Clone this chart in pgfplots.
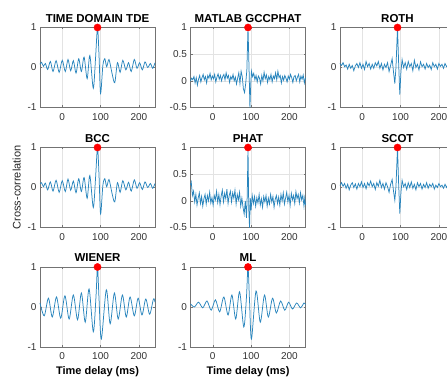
\documentclass[border=0pt]{standalone}
\usepackage{fontspec}
\setmainfont{Liberation Sans}
\usepackage{pgfplots}
\pgfplotsset{compat=1.18}
\definecolor{mblue}{rgb}{0.16,0.52,0.74}
\pgfplotsset{
  cc/.style={
    scale only axis, width=115pt, height=80pt, anchor=south west,
    xmin=-58, xmax=242, xtick={0,100,200},
    ymin=-1, ymax=1, ytick={-1,0,1},
    clip=false,
    grid=major, major grid style={black!11, line width=0.4pt},
    axis line style={black!55, line width=0.6pt},
    major tick length=2pt, tick style={black!55},
    tick label style={font=\fontsize{10}{11}\selectfont, text=black!80},
    xticklabel style={yshift=-2pt},
    /pgf/number format/assume math mode=true,
    title style={font=\fontsize{11.5}{12}\selectfont\bfseries, yshift=-4.5pt},
    xlabel style={font=\fontsize{11}{12}\selectfont\bfseries},
    ylabel style={font=\fontsize{11}{12}\selectfont, text=black!85},
  },
  half/.style={ymin=-0.5, ymax=1, ytick={-0.5,0,0.5,1}},
  sig/.style={mblue, line width=0.75pt, no marks},
  pk/.style={only marks, mark=*, mark size=3.6pt, red, mark options={fill=red, draw=red}},
}
\begin{document}
\begin{tikzpicture}
% Row 1
\begin{axis}[cc, at={(40pt,271.5pt)}, title={TIME DOMAIN TDE}]
\addplot[sig, smooth] coordinates {(-58,0.08) (-54,0.13) (-49,0.03) (-44,0.10) (-38,-0.05) (-31,0.15) (-24,-0.10) (-16,0.17) (-8,-0.12) (0,0.18) (8,-0.10) (15,0.20) (22,-0.08) (29,0.17) (36,-0.14) (43,0.22) (50,-0.10) (57,0.26) (65,-0.28) (72,0.30) (81,-0.52) (87,0.25) (92,1.00) (96,0.30) (100,-0.65) (106,0.05) (111,0.22) (116,0.02) (122,0.20) (130,-0.15) (137,-0.38) (144,0.12) (151,-0.12) (158,0.18) (166,-0.06) (173,0.12) (180,-0.10) (188,0.20) (195,-0.02) (202,0.12) (209,-0.06) (216,0.14) (223,0.00) (230,0.10) (236,-0.02) (242,0.12)};
\addplot[pk] coordinates {(92,1)};
\end{axis}
\begin{axis}[cc, half, at={(190.5pt,271.5pt)}, title={MATLAB GCCPHAT}]
\addplot[sig] coordinates {(-58,0.00) (-55,0.05) (-52,0.02) (-49,0.08) (-46,-0.04) (-43,0.06) (-40,-0.08) (-37,0.03) (-34,0.10) (-31,-0.02) (-28,0.06) (-25,0.12) (-22,0.02) (-19,0.08) (-16,-0.04) (-13,0.10) (-10,0.05) (-7,0.14) (-4,0.02) (-1,0.09) (2,0.04) (5,0.12) (8,-0.02) (11,0.07) (14,0.13) (17,0.03) (20,0.10) (23,0.00) (26,0.08) (29,0.12) (32,0.02) (35,0.15) (38,0.05) (41,0.10) (44,-0.03) (47,0.08) (50,0.03) (53,0.12) (56,0.00) (59,0.07) (62,-0.06) (65,0.05) (68,0.15) (71,-0.05) (74,0.18) (77,0.08) (80,-0.15) (83,-0.22) (86,-0.05) (89,0.20) (92,1.00) (95,0.15) (97,-0.50) (99,-0.10) (101,0.18) (104,0.08) (107,0.14) (110,0.02) (113,0.10) (116,-0.02) (119,0.09) (122,0.05) (125,-0.06) (128,0.10) (131,0.00) (134,0.16) (137,0.04) (140,0.11) (143,-0.03) (146,0.08) (149,0.02) (152,0.12) (155,-0.02) (158,0.09) (161,0.04) (164,0.15) (167,0.02) (170,0.18) (173,0.06) (176,0.10) (179,-0.04) (182,0.08) (185,0.01) (188,0.10) (191,0.05) (194,-0.02) (197,0.09) (200,0.03) (203,0.12) (206,0.06) (209,-0.03) (212,0.08) (215,0.10) (218,0.00) (221,0.07) (224,0.12) (227,-0.02) (230,0.09) (233,0.03) (236,0.11) (239,-0.04) (242,0.06)};
\addplot[pk] coordinates {(92,1)};
\end{axis}
\begin{axis}[cc, at={(340pt,271.5pt)}, title={ROTH}]
\addplot[sig] coordinates {(-58,0.10) (-54,0.05) (-50,0.12) (-46,0.02) (-42,0.06) (-38,-0.04) (-34,0.08) (-30,-0.02) (-26,0.05) (-22,-0.08) (-18,0.04) (-14,0.10) (-10,0.00) (-6,0.12) (-2,-0.02) (2,0.08) (6,-0.05) (10,0.15) (14,0.02) (18,0.10) (22,-0.04) (26,0.08) (30,-0.02) (34,0.12) (38,0.04) (42,0.15) (46,-0.02) (50,0.10) (54,-0.06) (58,0.08) (62,0.00) (66,0.12) (70,-0.10) (74,0.05) (78,0.22) (82,-0.15) (85,-0.40) (88,0.00) (92,1.00) (95,0.10) (98,-0.68) (101,-0.10) (104,0.20) (108,0.00) (112,0.12) (116,-0.04) (120,0.15) (124,0.02) (128,0.10) (132,-0.08) (136,0.18) (140,0.00) (144,0.08) (148,-0.06) (152,0.14) (156,0.02) (160,0.08) (164,-0.04) (168,0.10) (172,0.00) (176,0.06) (180,-0.05) (184,0.12) (188,0.02) (192,0.08) (196,-0.04) (200,0.10) (204,0.03) (208,0.08) (212,-0.02) (216,0.10) (220,0.02) (224,0.07) (228,-0.03) (232,0.08) (236,0.02) (240,0.07) (242,0.04)};
\addplot[pk] coordinates {(92,1)};
\end{axis}
% Row 2
\begin{axis}[cc, at={(40pt,151.5pt)}, title={BCC}, ylabel={Cross-correlation}]
\addplot[sig, smooth] coordinates {(-58,0.10) (-54,0.12) (-49,0.02) (-44,0.11) (-38,-0.06) (-31,0.14) (-24,-0.09) (-16,0.18) (-8,-0.12) (0,0.17) (8,-0.10) (15,0.21) (22,-0.07) (29,0.16) (36,-0.13) (43,0.22) (50,-0.10) (57,0.25) (65,-0.27) (72,0.30) (81,-0.50) (87,0.25) (92,1.00) (96,0.30) (100,-0.66) (106,0.05) (111,0.22) (116,0.02) (122,0.20) (130,-0.15) (137,-0.36) (144,0.12) (151,-0.12) (158,0.17) (166,-0.06) (173,0.13) (180,-0.09) (188,0.19) (195,-0.02) (202,0.12) (209,-0.05) (216,0.14) (223,0.00) (230,0.10) (236,-0.02) (242,0.10)};
\addplot[pk] coordinates {(92,1)};
\end{axis}
\begin{axis}[cc, half, at={(190.5pt,151.5pt)}, title={PHAT}]
\addplot[sig] coordinates {(-58,0.30) (-56,0.35) (-53,0.10) (-50,0.18) (-47,-0.02) (-44,0.12) (-41,-0.08) (-38,0.05) (-35,0.15) (-32,-0.05) (-29,0.08) (-26,-0.10) (-23,0.04) (-20,0.12) (-17,-0.06) (-14,0.10) (-11,0.00) (-8,0.16) (-5,-0.04) (-2,0.06) (1,-0.08) (4,0.10) (7,0.02) (10,0.18) (13,-0.03) (16,0.12) (19,-0.07) (22,0.09) (25,0.20) (28,-0.02) (31,0.14) (34,0.04) (37,0.22) (40,-0.05) (43,0.10) (46,0.18) (49,-0.02) (52,0.15) (55,0.05) (58,0.20) (61,-0.06) (64,0.12) (67,0.02) (70,0.16) (73,-0.10) (76,0.05) (79,-0.12) (82,-0.25) (85,0.00) (88,-0.32) (90,0.10) (92,1.00) (94,-0.15) (96,-0.50) (98,0.05) (100,-0.18) (103,0.10) (106,-0.05) (109,0.08) (112,-0.10) (115,0.06) (118,-0.04) (121,0.12) (124,-0.08) (127,0.04) (130,-0.12) (133,0.08) (136,-0.02) (139,0.10) (142,-0.10) (145,0.05) (148,-0.06) (151,0.12) (154,-0.02) (157,0.08) (160,-0.12) (163,0.03) (166,0.10) (169,-0.05) (172,0.07) (175,-0.08) (178,0.12) (181,0.00) (184,0.15) (187,-0.06) (190,0.05) (193,0.16) (196,-0.02) (199,0.10) (202,-0.08) (205,0.14) (208,0.02) (211,0.10) (214,-0.05) (217,0.17) (220,0.04) (223,0.12) (226,-0.04) (229,0.15) (232,0.02) (235,0.10) (238,-0.10) (240,0.05) (242,-0.08)};
\addplot[pk] coordinates {(92,1)};
\end{axis}
\begin{axis}[cc, at={(340pt,151.5pt)}, title={SCOT}]
\addplot[sig] coordinates {(-58,0.05) (-54,0.12) (-50,0.03) (-46,0.10) (-42,-0.02) (-38,0.08) (-34,-0.06) (-30,0.06) (-26,0.12) (-22,0.00) (-18,0.09) (-14,-0.04) (-10,0.10) (-6,0.02) (-2,0.14) (2,0.00) (6,0.10) (10,-0.03) (14,0.12) (18,0.04) (22,0.16) (26,0.02) (30,0.10) (34,-0.05) (38,0.12) (42,0.03) (46,0.18) (50,0.00) (54,0.10) (58,-0.04) (62,0.12) (66,0.02) (70,-0.12) (74,0.08) (78,0.20) (82,-0.12) (85,-0.32) (88,0.02) (92,1.00) (95,0.08) (98,-0.65) (101,-0.12) (104,0.18) (108,0.02) (112,0.10) (116,-0.05) (120,0.12) (124,0.00) (128,0.14) (132,-0.02) (136,0.08) (140,-0.06) (144,0.12) (148,0.02) (152,0.10) (156,-0.04) (160,0.08) (164,0.00) (168,0.12) (172,-0.02) (176,0.08) (180,0.02) (184,0.10) (188,-0.04) (192,0.06) (196,0.00) (200,0.10) (204,0.02) (208,0.06) (212,-0.02) (216,0.08) (220,0.00) (224,0.09) (228,0.02) (232,0.06) (236,-0.02) (240,0.08) (242,0.04)};
\addplot[pk] coordinates {(92,1)};
\end{axis}
% Row 3
\begin{axis}[cc, at={(40pt,32pt)}, title={WIENER}, xlabel={Time delay (ms)}]
\addplot[sig, smooth] coordinates {(-58,0.10) (-47,-0.22) (-36,0.22) (-26,-0.25) (-15,0.25) (-4,-0.28) (7,0.28) (18,-0.30) (29,0.30) (40,-0.32) (50,0.35) (60,-0.38) (70,0.45) (81,-0.62) (88,0.25) (92,1.00) (96,0.20) (102,-0.80) (115,0.43) (125,-0.42) (136,0.35) (146,-0.30) (157,0.30) (167,-0.25) (177,0.25) (188,-0.22) (198,0.22) (208,-0.20) (218,0.20) (228,-0.18) (238,0.20) (242,0.12)};
\addplot[pk] coordinates {(92,1)};
\end{axis}
\begin{axis}[cc, at={(190.5pt,32pt)}, title={ML}, xlabel={Time delay (ms)}]
\addplot[sig, smooth] coordinates {(-58,0.08) (-48,0.00) (-37,0.12) (-26,-0.02) (-15,0.15) (-4,-0.08) (7,0.18) (18,-0.12) (29,0.25) (40,-0.20) (50,0.30) (60,-0.30) (70,0.38) (81,-0.50) (88,0.25) (92,1.00) (96,0.15) (101,-0.80) (113,0.40) (124,-0.38) (135,0.30) (145,-0.25) (156,0.22) (166,-0.15) (177,0.15) (188,-0.08) (198,0.12) (208,-0.05) (219,0.10) (229,-0.02) (238,0.10) (242,0.06)};
\addplot[pk] coordinates {(92,1)};
\end{axis}
\pgfresetboundingbox
\path[use as bounding box] (0pt,0pt) rectangle (447pt,379pt);
\end{tikzpicture}
\end{document}
